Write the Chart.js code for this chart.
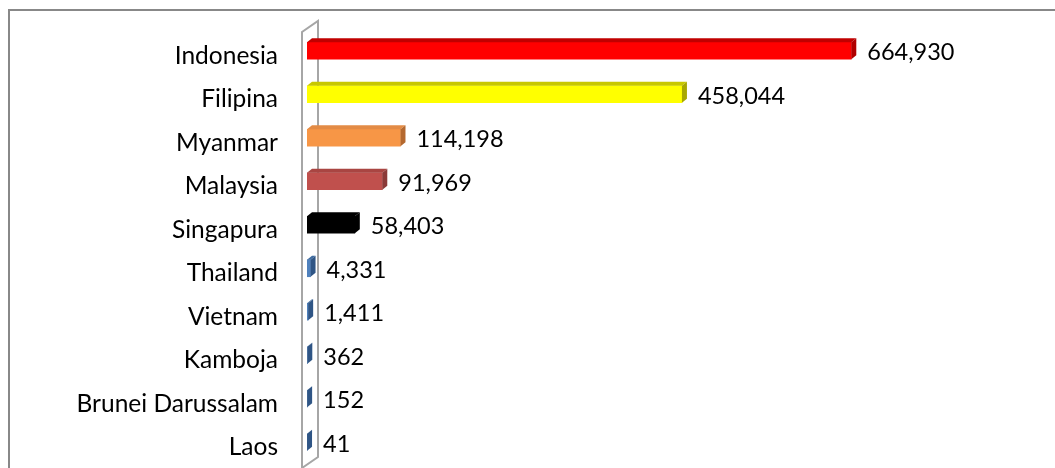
<!DOCTYPE html>
<html><head><meta charset="utf-8">
<script src="https://cdn.jsdelivr.net/npm/chart.js@4.4.0/dist/chart.umd.min.js"></script>
<style>html,body{margin:0;padding:0;background:#fff;overflow:hidden}#wrap{width:1055px;height:468px;position:relative}canvas{display:block}</style>
</head><body><div id="wrap"><canvas id="c" width="1055" height="468"></canvas></div>
<script>
const categories = ['Indonesia','Filipina','Myanmar','Malaysia','Singapura','Thailand','Vietnam','Kamboja','Brunei Darussalam','Laos'];
const values = [664930, 458044, 114198, 91969, 58403, 4331, 1411, 362, 152, 41];
const frontColors = ['#FF0000','#FFFF00','#F79646','#C0504D','#000000','#4F81BD','#4F81BD','#4F81BD','#4F81BD','#4F81BD'];
const topColors = ['#C00000','#C8C800','#E38B45','#A94542','#000000','#3E6BA0','#3E6BA0','#3E6BA0','#3E6BA0','#3E6BA0'];
const sideColors = ['#B00000','#A8A800','#B4682F','#8B3A38','#000000','#2F5585','#2F5585','#2F5585','#2F5585','#2F5585'];
const FONT = 'Lato';
const DX = 5, DY = 4;

const framePlugin = {
  id: 'frame',
  beforeDraw(chart) {
    const ctx = chart.ctx;
    ctx.save();
    ctx.strokeStyle = '#888888';
    ctx.lineWidth = 2;
    ctx.beginPath();
    ctx.moveTo(9, 470); ctx.lineTo(9, 10); ctx.lineTo(1056, 10);
    ctx.stroke();
    ctx.restore();
  },
  beforeDatasetsDraw(chart) {
    const ctx = chart.ctx;
    const a = chart.chartArea;
    const fx = a.left - 5, bx = a.left + 11;
    ctx.save();
    ctx.strokeStyle = '#A6A6A6';
    ctx.lineWidth = 2;
    ctx.lineJoin = 'miter';
    ctx.beginPath();
    ctx.moveTo(fx, 468); ctx.lineTo(fx, 32); ctx.lineTo(bx, 21); ctx.lineTo(bx, 457); ctx.lineTo(fx, 468);
    ctx.stroke();
    ctx.restore();
  },
  afterDatasetsDraw(chart) {
    const ctx = chart.ctx;
    const meta = chart.getDatasetMeta(0);
    ctx.save();
    meta.data.forEach((el, i) => {
      const p = el.getProps(['x','y','base','height'], true);
      const x0 = p.base, x1 = p.x, t = p.y - p.height / 2, b = p.y + p.height / 2;
      ctx.fillStyle = topColors[i];
      ctx.beginPath();
      ctx.moveTo(x0, t); ctx.lineTo(x1, t); ctx.lineTo(x1 + DX, t - DY); ctx.lineTo(x0 + DX, t - DY); ctx.closePath();
      ctx.fill();
      ctx.fillStyle = sideColors[i];
      ctx.beginPath();
      ctx.moveTo(x1, t); ctx.lineTo(x1 + DX, t - DY); ctx.lineTo(x1 + DX, b - DY); ctx.lineTo(x1, b); ctx.closePath();
      ctx.fill();
      ctx.fillStyle = '#000000';
      ctx.font = '23.5px ' + FONT;
      ctx.textAlign = 'left';
      ctx.textBaseline = 'middle';
      ctx.fillText(values[i].toLocaleString('en-US'), x1 + 16, p.y + 2);
    });
    ctx.restore();
  }
};

new Chart(document.getElementById('c'), {
  type: 'bar',
  data: {
    labels: categories,
    datasets: [{
      data: values,
      backgroundColor: frontColors,
      borderWidth: 0,
      barThickness: 17
    }]
  },
  options: {
    indexAxis: 'y',
    responsive: false,
    devicePixelRatio: 1,
    animation: false,
    layout: { padding: { left: 0, right: 175, top: 29, bottom: 4 } },
    plugins: { legend: { display: false }, tooltip: { enabled: false } },
    scales: {
      x: { display: false, min: 0, max: 700000 },
      y: {
        afterFit(scale) { scale.width = 307; scale.paddingTop = 0; scale.paddingBottom = 0; },
        grid: { display: false, drawTicks: false },
        border: { display: false },
        ticks: { color: '#000000', font: { family: FONT, size: 24.5 }, padding: 29, labelOffset: 5 }
      }
    }
  },
  plugins: [framePlugin]
});
</script>
</body></html>
